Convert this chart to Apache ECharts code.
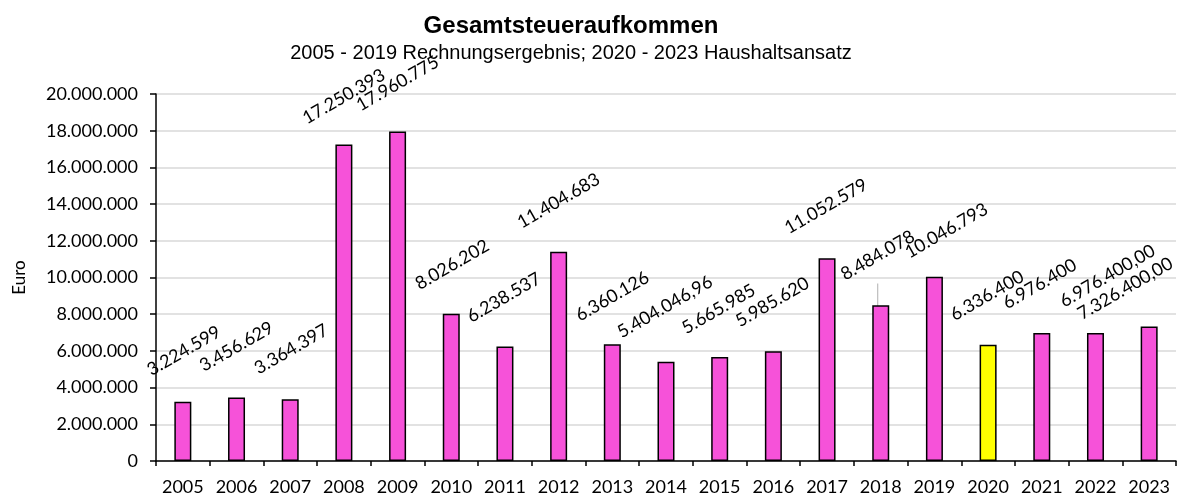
<!DOCTYPE html>
<html>
<head>
<meta charset="utf-8">
<title>Gesamtsteueraufkommen</title>
<script src="https://cdn.jsdelivr.net/npm/echarts@6/dist/echarts.min.js"></script>
<style>
    html, body { margin: 0; padding: 0; background: #fff; }
    #chart1 { width: 1187px; height: 497px; }
</style>
</head>
<body>
<div id="chart1"></div>
<script>
// data
var years = ['2005', '2006', '2007', '2008', '2009', '2010', '2011', '2012', '2013', '2014',
    '2015', '2016', '2017', '2018', '2019', '2020', '2021', '2022', '2023'];
var steuer = [3224599, 3456629, 3364397, 17250393, 17960775, 8026202, 6238537, 11404683, 6360126, 5404046.96,
    5665985, 5985620, 11052579, 8484078, 10046793, 6336400, 6976400, 6976400.00, 7326400.00];
// number of decimals shown in the data label
var nachkomma = [0, 0, 0, 0, 0, 0, 0, 0, 0, 2, 0, 0, 0, 0, 0, 0, 0, 2, 2];
var yTicks = { min: 0, max: 20000000, interval: 2000000 };
var highlightYear = '2020';

// label centre in screen px relative to bar top (labels were moved by hand in the original)
var labelOffsets = [[1, -51], [0, -51], [1, -50], [0, -48], [0, -48], [1, -49], [-1, -49], [0, -51], [0, -48], [-1, -55],
    [-1, -48], [-1, -49], [-1, -52], [-3, -50], [12, -46], [-1, -49], [-2, -49], [12, -57], [-24, -38]];
var leaderYear = '2018';
var labelRotate = 30;

// 1234567.8 -> "1.234.567,80"
function deFormat(v, dec) {
    var s = Number(v).toFixed(dec || 0);
    var parts = s.split('.');
    var ganz = parts[0].replace(/\B(?=(\d{3})+(?!\d))/g, '.');
    return parts.length > 1 ? ganz + ',' + parts[1] : ganz;
}

// the shift is applied in the rotated label frame, so turn screen px back into it
function toLabelFrame(off) {
    var t = labelRotate * Math.PI / 180;
    var c = Math.cos(t), s = Math.sin(t);
    return { dx: off[0] * c - off[1] * s, dy: off[0] * s + off[1] * c };
}

var pink = '#f652d9';
var gelb = '#ffff00';
var labelFont = 'Lato, "Open Sans", sans-serif';

var barData = steuer.map(function (v, i) {
    return {
        value: v,
        itemStyle: { color: years[i] === highlightYear ? gelb : pink },
        labelLine: { show: years[i] === leaderYear }
    };
});

var mychart = echarts.init(document.getElementById('chart1'));
var option = {
    animation: false,
    title: {
        text: 'Gesamtsteueraufkommen',
        subtext: '2005 - 2019 Rechnungsergebnis; 2020 - 2023 Haushaltsansatz',
        left: 566,
        textAlign: 'center',
        top: 9,
        itemGap: 5,
        textStyle: {
            fontFamily: '"Liberation Sans", Arial, sans-serif',
            fontWeight: 'bold',
            fontSize: 24,
            color: '#000'
        },
        subtextStyle: {
            fontFamily: '"Liberation Sans", Arial, sans-serif',
            fontSize: 20,
            color: '#000'
        }
    },
    grid: {
        left: 156,
        right: 11,
        top: 94,
        bottom: 36,
        containLabel: false
    },
    xAxis: {
        type: 'category',
        data: years,
        boundaryGap: true,
        axisLine: { lineStyle: { color: '#000', width: 1.5 } },
        axisTick: { show: true, length: 5, lineStyle: { color: '#000', width: 1.5 } },
        axisLabel: {
            interval: 0,
            margin: 17,
            fontFamily: labelFont,
            fontSize: 18,
            color: '#000'
        }
    },
    yAxis: {
        type: 'value',
        min: yTicks.min,
        max: yTicks.max,
        interval: yTicks.interval,
        name: 'Euro',
        nameLocation: 'middle',
        nameGap: 128,
        nameTextStyle: { fontFamily: labelFont, fontSize: 17, color: '#000' },
        axisLine: { show: true, lineStyle: { color: '#000', width: 1.5 } },
        axisTick: { show: true, length: 6, lineStyle: { color: '#000', width: 1.5 } },
        axisLabel: {
            margin: 18,
            fontFamily: labelFont,
            fontSize: 18,
            color: '#000',
            formatter: function (v) { return deFormat(v, 0); }
        },
        splitLine: { show: true, lineStyle: { color: '#d9d9d9', width: 1.5 } }
    },
    series: [
        {
            name: 'Gesamtsteueraufkommen',
            type: 'bar',
            barWidth: 17,
            data: barData,
            itemStyle: { borderColor: '#000', borderWidth: 1.5 },
            label: {
                show: true,
                position: 'top',
                distance: 0,
                rotate: labelRotate,
                align: 'center',
                verticalAlign: 'middle',
                fontFamily: labelFont,
                fontSize: 18,
                color: '#000',
                formatter: function (p) { return deFormat(p.value, nachkomma[p.dataIndex]); }
            },
            labelLine: {
                show: false,
                lineStyle: { color: '#b0b0b0', width: 1 }
            },
            labelLayout: function (params) {
                return toLabelFrame(labelOffsets[params.dataIndex]);
            }
        }
    ]
};
mychart.setOption(option);
</script>
</body>
</html>
